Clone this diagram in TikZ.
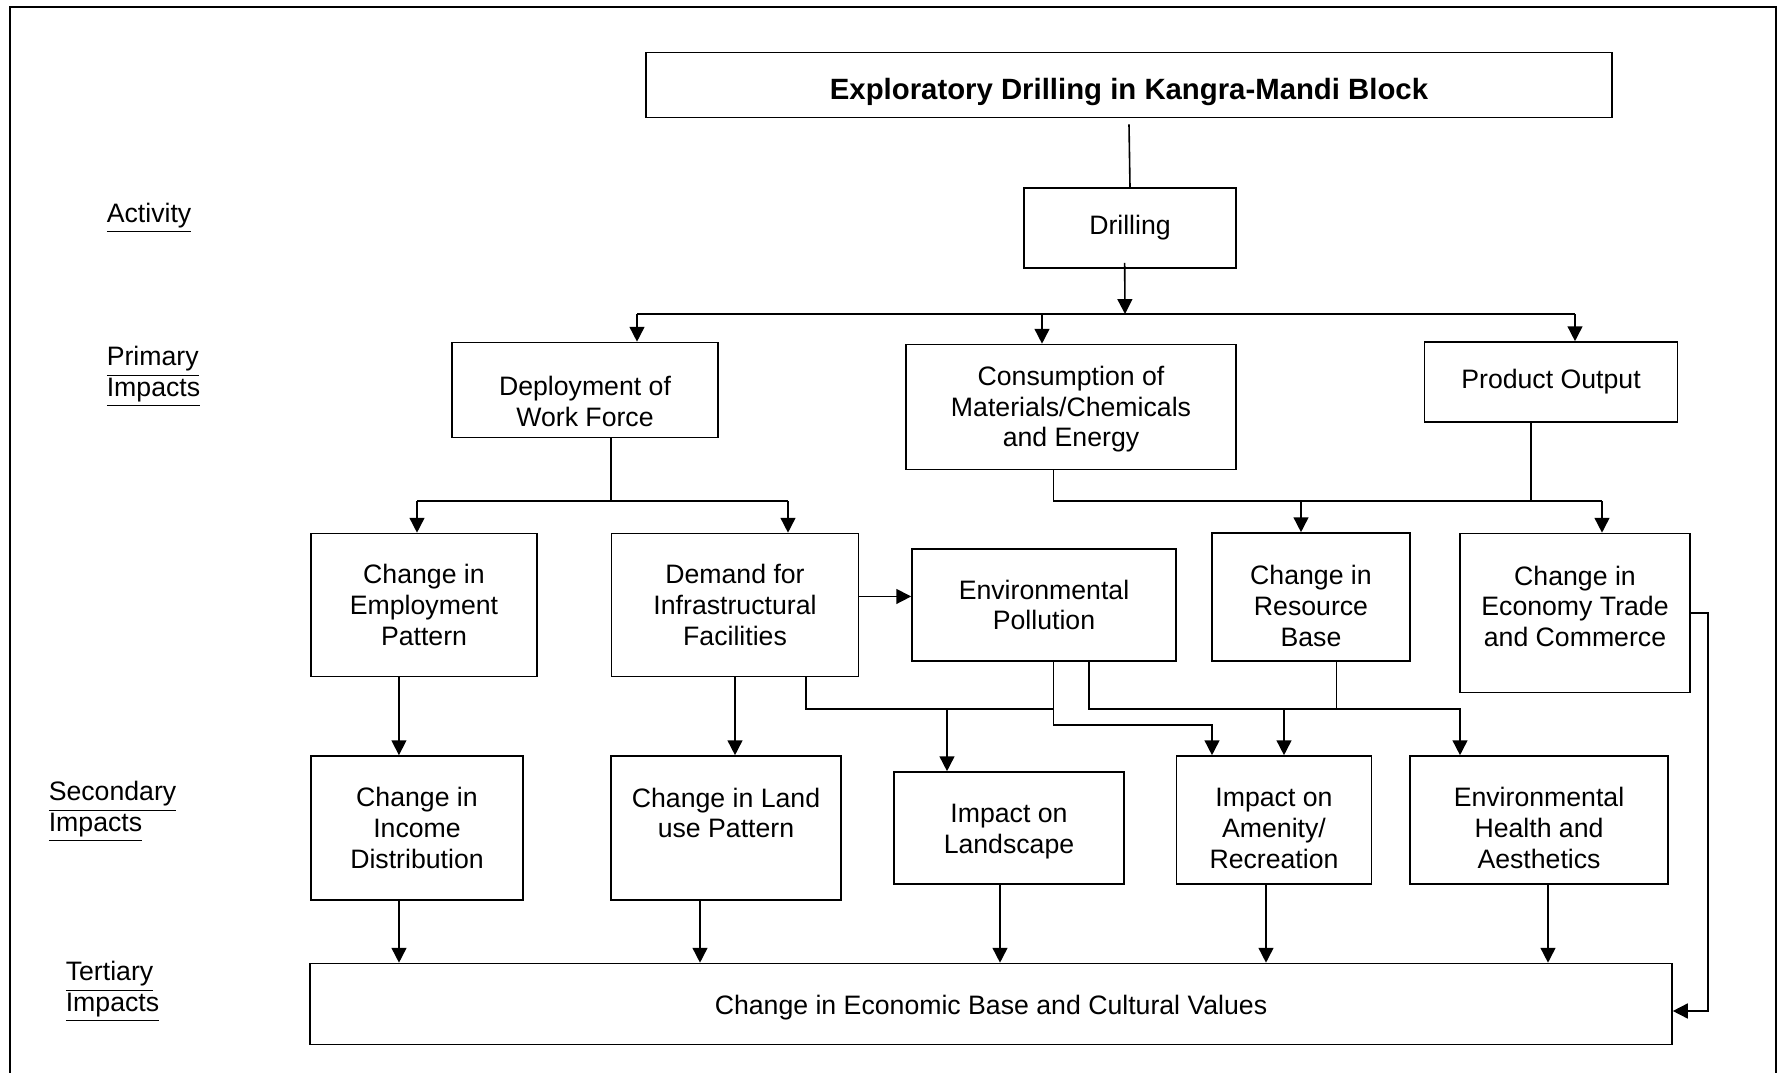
\documentclass[tikz,border=0pt]{standalone}
\usepackage{fontspec}
\setmainfont{Liberation Sans}
\usetikzlibrary{arrows.meta}

\begin{document}
\begin{tikzpicture}
	[x=0.375pt,y=-0.375pt,line width=0.6pt,
	box/.style 2 args={draw=black,rectangle,align=center,inner sep=2pt,minimum width=#1*0.375pt,minimum height=#2*0.375pt,font=\fontsize{10}{11.5}\selectfont},
	lbl/.style={anchor=west,align=left,inner sep=0pt,font=\fontsize{10}{11.5}\selectfont},
	arr/.style={-{Triangle[length=5.6pt,width=5.6pt]}}]
	\useasboundingbox (0,0) rectangle (1778,1073);
	\draw (10,1073) -- (10,7) -- (1776,7) -- (1776,1073);
	
	\node[lbl] (act)  at (106,218) {\underline{Activity}};
	\node[lbl] (prim) at (106,377) {\underline{Primary}\\\underline{Impacts}};
	\node[lbl] (sec)  at (48,812)  {\underline{Secondary}\\\underline{Impacts}};
	\node[lbl] (ter)  at (65,992)  {\underline{Tertiary}\\\underline{Impacts}};
	
	\node[box={966}{65},font=\bfseries\fontsize{11}{13}\selectfont] (title) at (1129,85) {\rule{0pt}{13pt}Exploratory Drilling in Kangra-Mandi Block};
	\node[box={212}{80}]  (drill)     at (1130,228) {Drilling};
	\node[box={266}{95}]  (deploy)    at (585,390)  {\rule{0pt}{15.7pt}Deployment of\\Work Force};
	\node[box={330}{125}] (consume)   at (1071,407) {\rule{0pt}{8.9pt}Consumption of\\Materials/Chemicals\\and Energy};
	\node[box={253}{80}]  (output)    at (1551,382) {Product Output};
	\node[box={226}{143}] (employ)    at (424,605)  {Change in\\Employment\\Pattern};
	\node[box={247}{143}] (demand)    at (735,605)  {Demand for\\Infrastructural\\Facilities};
	\node[box={264}{112}] (pollution) at (1044,605) {Environmental\\Pollution};
	\node[box={198}{128}] (resource)  at (1311,597) {\rule{0pt}{14pt}Change in\\Resource\\Base};
	\node[box={230}{159}] (economy)   at (1575,613) {Change in\\Economy Trade\\and Commerce\rule[-5.1pt]{0pt}{0pt}};
	\node[box={212}{144}] (income)    at (417,828)  {Change in\\Income\\Distribution};
	\node[box={230}{144}] (landuse)   at (726,828)  {Change in Land\\use Pattern\\\mbox{}};
	\node[box={230}{112}] (landscape) at (1009,828) {\rule{0pt}{9.8pt}Impact on\\Landscape};
	\node[box={195}{128}] (amenity)   at (1274,820) {\rule{0pt}{13.2pt}Impact on\\Amenity/\\Recreation};
	\node[box={258}{128}] (health)    at (1539,820) {\rule{0pt}{13.2pt}Environmental\\Health and\\Aesthetics};
	\node[box={1362}{81}] (base)      at (991,1004) {\rule{0pt}{9.8pt}Change in Economic Base and Cultural Values};
	
	\coordinate (r1)  at (1125,314);
	\coordinate (r1w) at (637,314);
	\coordinate (r1m) at (1042,314);
	\coordinate (r1e) at (1575,314);
	\coordinate (r2d) at (611,501);
	\coordinate (r2a) at (417,501);
	\coordinate (r2b) at (788,501);
	\coordinate (r2c) at (1053.5,501);
	\coordinate (r2r) at (1301,501);
	\coordinate (r2o) at (1531,501);
	\coordinate (r2e) at (1602,501);
	\coordinate (r3a) at (806,709);
	\coordinate (r3b) at (947,709);
	\coordinate (r3c) at (1053.5,709);
	\coordinate (r3d) at (1089,709);
	\coordinate (r3e) at (1284,709);
	\coordinate (r3f) at (1336.5,709);
	\coordinate (r3g) at (1460,709);
	\coordinate (r4a) at (1053.5,725);
	\coordinate (r4b) at (1212,725);
	\coordinate (loop) at (1708,1011);
	
	\draw ([yshift=-2.3pt]title.south) -- (drill.north);
	\draw[arr] ([xshift=-2pt,yshift=2.2pt]drill.south) -- (r1);
	\draw (r1w) -- (r1e);
	\foreach \from/\to in {r1w/deploy,r1m/consume,r1e/output,r2a/employ,r2b/demand,r2r/resource,r2e/economy}
	\draw[arr] (\from) -- (\from |- \to.north);
	
	\draw (r2d |- deploy.south) -- (r2d);
	\draw (r2a) -- (r2b);
	\draw (r2c |- consume.south) -- (r2c) -- (r2e);
	\draw (r2o |- output.south) -- (r2o);
	
	\draw[arr] ([yshift=3.2pt]demand.east) -- ([yshift=3.2pt]pollution.west);
	\coordinate (c1) at ([xshift=-9.4pt]employ.south);
	\draw[arr] (c1) -- (c1 |- income.north);
	\draw[arr] (demand.south) -- (demand.south |- landuse.north);
	
	\draw (r3a |- demand.south) -- (r3a) -- (r3c);
	\draw[arr] (r3b) -- (r3b |- landscape.north);
	\draw[arr] (r4a |- pollution.south) -- (r4a) -- (r4b) -- (r4b |- amenity.north);
	\draw[arr] (r3d |- pollution.south) -- (r3d) -- (r3g) -- (r3g |- health.north);
	\draw (r3f |- resource.south) -- (r3f);
	\draw[arr] (r3e) -- (r3e |- amenity.north);
	\draw[arr] (economy.east) -| (loop) -- (loop -| base.east);
	
	\foreach \n/\d in {income/-18,landuse/-26,landscape/-9,amenity/-8,health/9}{
		\coordinate (t) at ([xshift=\d*0.375pt]\n.south);
		\draw[arr] (t) -- (t |- base.north);
	}
	
\end{tikzpicture}
\end{document}
